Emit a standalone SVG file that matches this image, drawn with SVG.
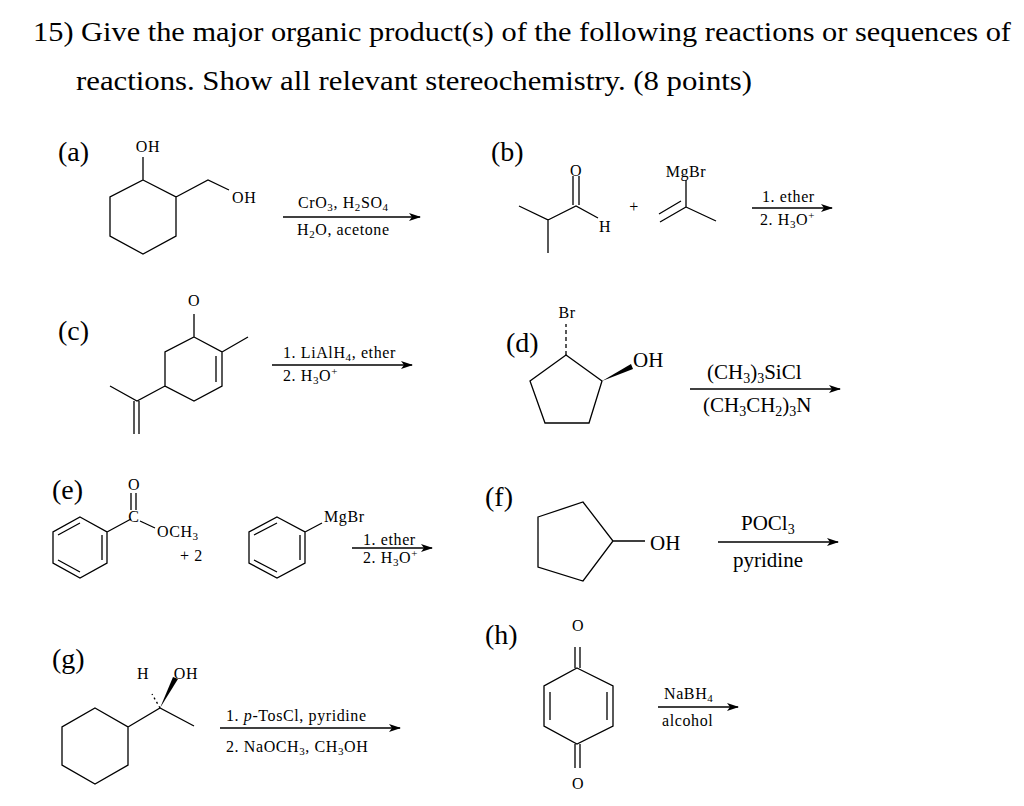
<svg xmlns="http://www.w3.org/2000/svg" width="1024" height="806" viewBox="0 0 1024 806">
<defs>
<style>
.t{font-family:"Liberation Serif",serif;fill:#000}
.h{font-size:28px}
.l{font-size:28px}
.s{font-size:16px;letter-spacing:0.6px}
.m{font-size:21px}
.b{stroke:#000;stroke-width:1.3;fill:none}
.a{stroke:#000;stroke-width:1.5;fill:none}
</style>
<marker id="ar" markerWidth="12" markerHeight="8" refX="11" refY="4" orient="auto" markerUnits="userSpaceOnUse"><path d="M0,0 L12,4 L0,8 L3,4z" fill="#000"/></marker>
</defs>
<rect width="1024" height="806" fill="#fff"/>
<text class="t h" x="33" y="41" textLength="978" lengthAdjust="spacingAndGlyphs">15) Give the major organic product(s) of the following reactions or sequences of</text>
<text class="t h" x="76" y="90" textLength="676" lengthAdjust="spacingAndGlyphs">reactions. Show all relevant stereochemistry. (8 points)</text>
<g class="t l"><text x="58" y="161">(a)</text><text x="491" y="161">(b)</text><text x="58" y="340">(c)</text><text x="506" y="352">(d)</text><text x="52" y="499">(e)</text><text x="485" y="506">(f)</text><text x="52" y="668">(g)</text><text x="485" y="644">(h)</text></g>

<g id="a">
<path class="b" d="M143,180 L176,197 L176,236 L143,254 L110,236 L110,197 Z M143,180 V157 M176,197 L208,180 L229,190"/>
<text class="t s" x="148" y="152" text-anchor="middle">OH</text>
<text class="t s" x="232" y="203">OH</text>
<line class="a" x1="283" y1="217" x2="420" y2="217" marker-end="url(#ar)"/>
<text class="t s" x="298" y="208">CrO<tspan font-size="11" dy="3">3</tspan><tspan dy="-3">, H</tspan><tspan font-size="11" dy="3">2</tspan><tspan dy="-3">SO</tspan><tspan font-size="11" dy="3">4</tspan></text>
<text class="t s" x="297" y="235">H<tspan font-size="11" dy="3">2</tspan><tspan dy="-3">O, acetone</tspan></text>
</g>

<g id="b">
<path class="b" d="M519,206 L548,220 V253 M548,220 L576,206 L598,218 M573,205 V176 M579,205 V176 M686,207 V180 M686,207 L716,221 M686,207 L660,222 M681,201 L659,214"/>
<text class="t s" x="576" y="176" text-anchor="middle">O</text>
<text class="t s" x="599" y="232">H</text>
<text class="t s" x="634" y="212" text-anchor="middle">+</text>
<text class="t s" x="686" y="177" text-anchor="middle">MgBr</text>
<line class="a" x1="752" y1="208" x2="832" y2="208" marker-end="url(#ar)"/>
<text class="t s" x="762" y="202">1. ether</text>
<text class="t s" x="760" y="225">2. H<tspan font-size="11" dy="3">3</tspan><tspan dy="-3">O</tspan><tspan font-size="11" dy="-6">+</tspan></text>
</g>

<g id="c">
<path class="b" d="M194,337 L222,352 L222,386 L194,401 L165,386 L165,352 Z M194,337 V314 M222,352 L248,337 M216,356 V382 M165,386 L137,401 L110,386 M134,401 V434 M139,401 V434"/>
<text class="t s" x="194" y="306" text-anchor="middle">O</text>
<line class="a" x1="272" y1="365" x2="412" y2="365" marker-end="url(#ar)"/>
<text class="t s" x="283" y="358">1. LiAlH<tspan font-size="11" dy="3">4</tspan><tspan dy="-3">, ether</tspan></text>
<text class="t s" x="283" y="381">2. H<tspan font-size="11" dy="3">3</tspan><tspan dy="-3">O</tspan><tspan font-size="11" dy="-6">+</tspan></text>
</g>

<g id="d">
<path class="b" d="M566,355 L602,381 L589,423 L545,423 L530,381 Z"/>
<path class="b" d="M566,355 V324" stroke-dasharray="4,3"/>
<path d="M602,381 L631,364 L633,369 Z" fill="#000"/>
<text class="t s" x="567" y="318" text-anchor="middle">Br</text>
<text class="t m" x="633" y="367">OH</text>
<line class="a" x1="690" y1="389" x2="840" y2="389" marker-end="url(#ar)"/>
<text class="t m" x="707" y="379">(CH<tspan font-size="14" dy="4">3</tspan><tspan dy="-4">)</tspan><tspan font-size="14" dy="4">3</tspan><tspan dy="-4">SiCl</tspan></text>
<text class="t m" x="703" y="412">(CH<tspan font-size="14" dy="4">3</tspan><tspan dy="-4">CH</tspan><tspan font-size="14" dy="4">2</tspan><tspan dy="-4">)</tspan><tspan font-size="14" dy="4">3</tspan><tspan dy="-4">N</tspan></text>
</g>

<g id="e">
<path class="b" d="M80,517 L107,532 L107,563 L80,578 L53,563 L53,532 Z M102,535 V560 M80,572 L58,560 M58,535 L80,523 M107,532 L131,519 M131,493 V510 M136,493 V510 M140,521 L155,528"/>
<text class="t s" x="134" y="490" text-anchor="middle">O</text>
<text class="t s" x="134" y="522" text-anchor="middle">C</text>
<text class="t s" x="157" y="537">OCH<tspan font-size="11" dy="3">3</tspan></text>
<text class="t s" x="180" y="561">+  2</text>
<path class="b" d="M277,517 L305,532 L305,563 L277,578 L249,563 L249,532 Z M300,535 V560 M277,572 L254,560 M254,535 L277,523 M305,532 L322,523"/>
<text class="t s" x="324" y="522">MgBr</text>
<line class="a" x1="352" y1="548" x2="432" y2="548" marker-end="url(#ar)"/>
<text class="t s" x="363" y="545">1. ether</text>
<text class="t s" x="363" y="563">2. H<tspan font-size="11" dy="3">3</tspan><tspan dy="-3">O</tspan><tspan font-size="11" dy="-6">+</tspan></text>
</g>

<g id="f">
<path class="b" d="M538,517 L583,502 L613,541 L583,581 L538,567 Z M613,541 H645"/>
<text class="t m" x="650" y="550">OH</text>
<line class="a" x1="718" y1="542" x2="838" y2="542" marker-end="url(#ar)"/>
<text class="t m" x="741" y="530">POCl<tspan font-size="14" dy="4">3</tspan></text>
<text class="t m" x="733" y="567">pyridine</text>
</g>

<g id="g">
<path class="b" d="M95,708 L128,727 L128,765 L95,784 L62,765 L62,727 Z M128,727 L160,708 L194,726"/>
<path class="b" d="M160,708 L152,694" stroke-dasharray="2,3"/>
<path d="M160,708 L173,677 L178,679 Z" fill="#000"/>
<text class="t s" x="143" y="679" text-anchor="middle">H</text>
<text class="t s" x="186" y="679" text-anchor="middle">OH</text>
<line class="a" x1="220" y1="728" x2="400" y2="728" marker-end="url(#ar)"/>
<text class="t s" x="226" y="721">1. <tspan font-style="italic">p</tspan>-TosCl, pyridine</text>
<text class="t s" x="226" y="752">2. NaOCH<tspan font-size="11" dy="3">3</tspan><tspan dy="-3">, CH</tspan><tspan font-size="11" dy="3">3</tspan><tspan dy="-3">OH</tspan></text>
</g>

<g id="h">
<path class="b" d="M577,668 L613,686 L613,726 L577,744 L544,726 L544,686 Z M550,692 V720 M607,692 V720 M575,647 V668 M580,647 V668 M575,744 V768 M580,744 V768"/>
<text class="t s" x="578" y="631" text-anchor="middle">O</text>
<text class="t s" x="578" y="789" text-anchor="middle">O</text>
<line class="a" x1="658" y1="707" x2="738" y2="707" marker-end="url(#ar)"/>
<text class="t s" x="664" y="699">NaBH<tspan font-size="11" dy="3">4</tspan></text>
<text class="t s" x="662" y="726">alcohol</text>
</g>
</svg>
